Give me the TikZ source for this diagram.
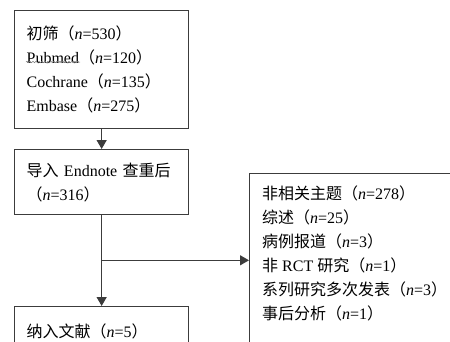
\documentclass[tikz,border=0pt]{standalone}
\usepackage{fontspec}
\setmainfont{Liberation Serif}
\newfontfamily\cjk{Noto Sans CJK SC}
\usetikzlibrary{arrows.meta, positioning, calc, decorations.pathmorphing}
\definecolor{linegray}{RGB}{60,60,60}
\newcommand{\zh}[1]{{\cjk #1}}
\newcommand{\nval}[1]{\textit{n}=#1}

\begin{document}
\begin{tikzpicture}[
    x=1pt, y=-1pt,
    >={Triangle[length=9pt, width=10pt]},
    box/.style={draw=linegray, line width=1.3pt, align=left, inner xsep=12pt, anchor=north west, font=\fontsize{16}{24}\selectfont},
    txt/.style={align=left, inner sep=0pt, anchor=north west, font=\fontsize{16}{24}\selectfont},
    link/.style={draw=linegray, line width=1.3pt},
]
    \useasboundingbox (0,0) rectangle (450,341);
    \clip (0,0) rectangle (450,341);
    \node[box, text width=150pt, minimum height=118pt] (search) at (14,10)
        {\zh{初筛（}\nval{530}\zh{）}\\
         Pubmed\zh{（}\nval{120}\zh{）}\\
         Cochrane\zh{（}\nval{135}\zh{）}\\
         Embase\zh{（}\nval{275}\zh{）}};
    \node[box, text width=150pt, minimum height=65pt] (dedup) at (14,149)
        {\zh{导入} Endnote \zh{查重后}\\\zh{（}\nval{316}\zh{）}};
    \node[box, text width=150pt, minimum height=50pt] (incl) at (14,306)
        {\zh{纳入文献（}\nval{5}\zh{）}};
    % excluded records
    \node[box, minimum width=230pt, minimum height=200pt] (excl) at (249,173) {};
    \node[txt] (excltext) at (262,186)
        {\zh{非相关主题（}\nval{278}\zh{）}\\
         \zh{综述（}\nval{25}\zh{）}\\
         \zh{病例报道（}\nval{3}\zh{）}\\
         \zh{非} RCT \zh{研究（}\nval{1}\zh{）}\\
         \zh{系列研究多次发表（}\nval{3}\zh{）}\\
         \zh{事后分析（}\nval{1}\zh{）}};
    % spell-check squiggle
    \draw[gray, line width=0.5pt, decorate, decoration={snake, amplitude=0.8pt, segment length=3pt}] (26,62) -- (80,62);
    \coordinate (branch) at ([yshift=-45pt]dedup.south);
    \draw[link, ->] (search) -- (dedup);
    \draw[link, ->] (dedup) -- (incl);
    \draw[link, ->] (branch) -- (branch -| excl.west);
\end{tikzpicture}
\end{document}
